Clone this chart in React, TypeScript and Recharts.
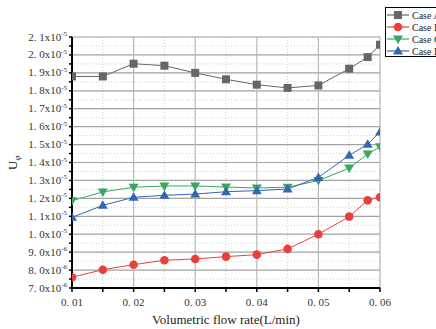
import React from 'react';
import { LineChart, Line, XAxis, YAxis, CartesianGrid } from 'recharts';

const flowRates = [0.01, 0.015, 0.02, 0.025, 0.03, 0.035, 0.04, 0.045, 0.05, 0.055, 0.058, 0.06];
const caseA = [1.88e-5, 1.88e-5, 1.951e-5, 1.94e-5, 1.90e-5, 1.864e-5, 1.834e-5, 1.816e-5, 1.83e-5, 1.923e-5, 1.988e-5, 2.057e-5];
const caseB = [7.6e-6, 8.02e-6, 8.3e-6, 8.55e-6, 8.62e-6, 8.75e-6, 8.86e-6, 9.18e-6, 1.0e-5, 1.098e-5, 1.189e-5, 1.206e-5];
const caseC = [1.187e-5, 1.236e-5, 1.262e-5, 1.269e-5, 1.269e-5, 1.263e-5, 1.258e-5, 1.262e-5, 1.299e-5, 1.369e-5, 1.447e-5, 1.488e-5];
const caseD = [1.094e-5, 1.161e-5, 1.206e-5, 1.217e-5, 1.224e-5, 1.237e-5, 1.243e-5, 1.252e-5, 1.317e-5, 1.44e-5, 1.502e-5, 1.57e-5];

const xMajorTicks = [0.01, 0.02, 0.03, 0.04, 0.05, 0.06];
const xMinorTicks = [0.015, 0.025, 0.035, 0.045, 0.055];
const xTickLabels = ['0. 01', '0. 02', '0. 03', '0. 04', '0. 05', '0. 06'];

const yMajorTicks = [7.0e-6, 8.0e-6, 9.0e-6, 1.0e-5, 1.1e-5, 1.2e-5, 1.3e-5, 1.4e-5, 1.5e-5, 1.6e-5, 1.7e-5, 1.8e-5, 1.9e-5, 2.0e-5, 2.1e-5];
const yMinorTicks = [7.5e-6, 8.5e-6, 9.5e-6, 1.05e-5, 1.15e-5, 1.25e-5, 1.35e-5, 1.45e-5, 1.55e-5, 1.65e-5, 1.75e-5, 1.85e-5, 1.95e-5, 2.05e-5];
const yTickMantissas = ['7. 0', '8. 0', '9. 0', '1. 0', '1. 1', '1. 2', '1. 3', '1. 4', '1. 5', '1. 6', '1. 7', '1. 8', '1. 9', '2. 0', '2. 1'];
const yTickExponents = ['-6', '-6', '-6', '-5', '-5', '-5', '-5', '-5', '-5', '-5', '-5', '-5', '-5', '-5', '-5'];

const seriesNames = ['Case A', 'Case B', 'Case C', 'Case D'];
const seriesKeys = ['A', 'B', 'C', 'D'];
const seriesColors = ['#666666', '#e8403c', '#37a85f', '#3565b5'];
const seriesShapes = ['square', 'circle', 'triDown', 'triUp'];

const data = flowRates.map((x, i) => ({ x, A: caseA[i], B: caseB[i], C: caseC[i], D: caseD[i] }));

const FONT = '"Liberation Serif", "Times New Roman", serif';
const near = (a: number, b: number) => Math.abs(a - b) < Math.abs(b) * 1e-6;
const X_DOMAIN: [number, number] = [0.01, 0.06];
const Y_DOMAIN: [number, number] = [7e-6, 2.1e-5];

function Marker({ cx, cy, shape, color }: any) {
  if (cx == null || cy == null) return null;
  if (shape === 'square') return <rect x={cx - 4} y={cy - 4} width={8} height={8} fill={color} />;
  if (shape === 'circle') return <circle cx={cx} cy={cy} r={4.3} fill={color} />;
  if (shape === 'triDown') return <path d={`M${cx - 5},${cy - 3.5}L${cx + 5},${cy - 3.5}L${cx},${cy + 5}Z`} fill={color} />;
  return <path d={`M${cx - 5},${cy + 3.5}L${cx + 5},${cy + 3.5}L${cx},${cy - 5}Z`} fill={color} />;
}

function YTick(props: any) {
  const { x, y, payload } = props;
  const idx = yMajorTicks.findIndex((t) => near(payload.value, t));
  if (idx < 0) return <g />;
  return (
    <text x={x} y={y} dy={3.5} textAnchor="end" fontFamily={FONT} fontSize={11} fill="#333">
      <tspan>{yTickMantissas[idx]}x10</tspan>
      <tspan dy={-4.5} fontSize={7}>{yTickExponents[idx]}</tspan>
    </text>
  );
}

function XTick(props: any) {
  const { x, y, payload } = props;
  const idx = xMajorTicks.findIndex((t) => near(payload.value, t));
  if (idx < 0) return <g />;
  return (
    <text x={x} y={y} dy={12} textAnchor="middle" fontFamily={FONT} fontSize={11} fill="#333">
      {xTickLabels[idx]}
    </text>
  );
}

const Empty = () => <g />;

const allX = [...xMajorTicks, ...xMinorTicks].sort((a, b) => a - b);
const allY = [...yMajorTicks, ...yMinorTicks].sort((a, b) => a - b);

export default function App() {
  return (
    <div style={{ position: 'absolute', left: 0, top: 0, width: 436, height: 329, overflow: 'hidden', background: '#fff' }}>
      <LineChart width={436} height={329} data={data} margin={{ top: 37, right: 56, bottom: 11, left: 10 }}>
        <XAxis xAxisId="xmin" dataKey="x" type="number" domain={X_DOMAIN} ticks={xMinorTicks} interval={0} allowDataOverflow hide />
        <XAxis xAxisId="xmaj" dataKey="x" type="number" domain={X_DOMAIN} ticks={xMajorTicks} interval={0} allowDataOverflow hide />
        <YAxis yAxisId="ymin" type="number" domain={Y_DOMAIN} ticks={yMinorTicks} interval={0} allowDataOverflow hide />
        <YAxis yAxisId="ymaj" type="number" domain={Y_DOMAIN} ticks={yMajorTicks} interval={0} allowDataOverflow hide />
        <CartesianGrid xAxisId="xmin" yAxisId="ymin" stroke="#cfcfcf" strokeDasharray="1 2" />
        <CartesianGrid xAxisId="xmaj" yAxisId="ymaj" vertical={false} stroke="#a2a2a2" strokeWidth={1.2} />
        <CartesianGrid xAxisId="xmaj" yAxisId="ymaj" horizontal={false} stroke="#b8b8b8" strokeWidth={1.2} />
        <XAxis
          dataKey="x"
          type="number"
          domain={X_DOMAIN}
          ticks={allX}
          interval={0}
          allowDataOverflow
          height={30}
          tickSize={4}
          axisLine={{ stroke: '#000', strokeWidth: 2 }}
          tickLine={{ stroke: '#000', strokeWidth: 1.5 }}
          tick={<XTick />}
        />
        <XAxis
          xAxisId="top"
          orientation="top"
          dataKey="x"
          type="number"
          domain={X_DOMAIN}
          ticks={allX}
          interval={0}
          allowDataOverflow
          height={0}
          tickSize={4}
          axisLine={{ stroke: '#000', strokeWidth: 2 }}
          tickLine={{ stroke: '#000', strokeWidth: 1.5 }}
          tick={<Empty />}
        />
        <YAxis
          type="number"
          domain={Y_DOMAIN}
          ticks={allY}
          interval={0}
          allowDataOverflow
          width={62}
          tickSize={3}
          axisLine={{ stroke: '#000', strokeWidth: 2 }}
          tickLine={{ stroke: '#000', strokeWidth: 1.5 }}
          tick={<YTick />}
        />
        <YAxis
          yAxisId="right"
          orientation="right"
          type="number"
          domain={Y_DOMAIN}
          ticks={yMajorTicks}
          interval={0}
          allowDataOverflow
          width={0}
          tickSize={4}
          axisLine={{ stroke: '#000', strokeWidth: 2 }}
          tickLine={{ stroke: '#000', strokeWidth: 1.5 }}
          tick={<Empty />}
        />
        {seriesKeys.map((k, i) => (
          <Line
            key={k}
            dataKey={k}
            name={seriesNames[i]}
            type="linear"
            stroke={seriesColors[i]}
            strokeWidth={1}
            isAnimationActive={false}
            dot={(p: any) => <Marker key={`${k}-${p.index}`} cx={p.cx} cy={p.cy} shape={seriesShapes[i]} color={seriesColors[i]} />}
            activeDot={false}
          />
        ))}
      </LineChart>
      <svg width={436} height={329} style={{ position: 'absolute', left: 0, top: 0, pointerEvents: 'none' }}>
        <text x={226} y={324} textAnchor="middle" fontFamily={FONT} fontSize={13} fill="#222">
          Volumetric flow rate(L/min)
        </text>
        <text transform="translate(17,170) rotate(-90)" textAnchor="start" fontFamily={FONT} fontSize={13} fill="#222">
          <tspan>U</tspan>
          <tspan dy={3} fontSize={9} fontStyle="italic">φ</tspan>
        </text>
      </svg>
      <div
        style={{
          position: 'absolute',
          left: 385,
          top: 7,
          width: 80,
          height: 50,
          border: '1px solid #000',
          background: '#fff',
          fontFamily: FONT,
          fontSize: 10,
          color: '#222',
          boxSizing: 'border-box',
          paddingTop: 1,
        }}
      >
        {seriesNames.map((n, i) => (
          <div key={n} style={{ display: 'flex', alignItems: 'center', height: 12, whiteSpace: 'nowrap' }}>
            <svg width={26} height={12} style={{ flex: 'none' }}>
              <line x1={1} y1={6} x2={23} y2={6} stroke={seriesColors[i]} strokeWidth={1.2} />
              <Marker cx={12} cy={6} shape={seriesShapes[i]} color={seriesColors[i]} />
            </svg>
            <span>{n}</span>
          </div>
        ))}
      </div>
    </div>
  );
}
